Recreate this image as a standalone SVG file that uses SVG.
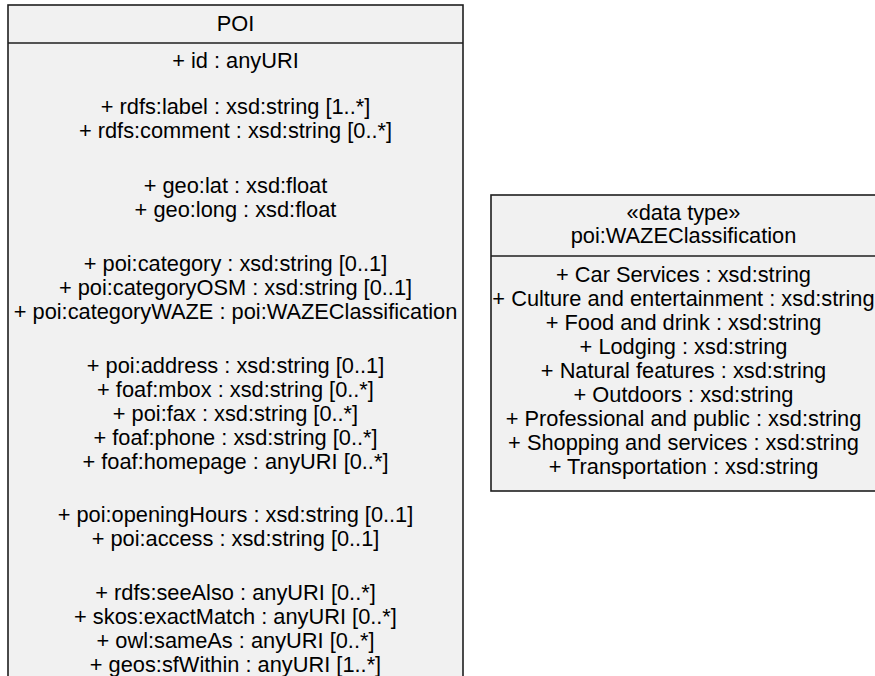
<svg xmlns="http://www.w3.org/2000/svg" width="875" height="676" viewBox="0 0 875 676">
  <style>
    .box { fill: #f1f1f1; stroke: #1e1e1e; stroke-width: 1.6; }
    .sep { stroke: #1e1e1e; stroke-width: 1.6; }
    text { font-family: "Liberation Sans", Arial, sans-serif; font-size: 21.8px; fill: #000; text-anchor: middle; }
  </style>
  <rect width="875" height="676" fill="#ffffff"/>

  <!-- POI class -->
  <g id="poi">
    <rect class="box" x="8" y="5" width="455" height="690"/>
    <line class="sep" x1="8" y1="43" x2="463" y2="43"/>
    <text x="235.5" y="31">POI</text>
    <text x="235.5" y="68">+ id : anyURI</text>
    <text x="235.5" y="114">+ rdfs:label : xsd:string [1..*]</text>
    <text x="235.5" y="138">+ rdfs:comment : xsd:string [0..*]</text>
    <text x="235.5" y="193">+ geo:lat : xsd:float</text>
    <text x="235.5" y="217">+ geo:long : xsd:float</text>
    <text x="235.5" y="271">+ poi:category : xsd:string [0..1]</text>
    <text x="235.5" y="295">+ poi:categoryOSM : xsd:string [0..1]</text>
    <text x="235.5" y="319">+ poi:categoryWAZE : poi:WAZEClassification</text>
    <text x="235.5" y="373">+ poi:address : xsd:string [0..1]</text>
    <text x="235.5" y="397">+ foaf:mbox : xsd:string [0..*]</text>
    <text x="235.5" y="421">+ poi:fax : xsd:string [0..*]</text>
    <text x="235.5" y="445">+ foaf:phone : xsd:string [0..*]</text>
    <text x="235.5" y="469">+ foaf:homepage : anyURI [0..*]</text>
    <text x="235.5" y="522">+ poi:openingHours : xsd:string [0..1]</text>
    <text x="235.5" y="546">+ poi:access : xsd:string [0..1]</text>
    <text x="235.5" y="600">+ rdfs:seeAlso : anyURI [0..*]</text>
    <text x="235.5" y="624">+ skos:exactMatch : anyURI [0..*]</text>
    <text x="235.5" y="648">+ owl:sameAs : anyURI [0..*]</text>
    <text x="235.5" y="672">+ geos:sfWithin : anyURI [1..*]</text>
  </g>

  <!-- WAZE classification data type -->
  <g id="waze-classification">
    <rect class="box" x="491" y="195" width="385" height="296"/>
    <line class="sep" x1="491" y1="256" x2="876" y2="256"/>
    <text x="683.5" y="220">«data type»</text>
    <text x="683.5" y="243">poi:WAZEClassification</text>
    <text x="683.5" y="282">+ Car Services : xsd:string</text>
    <text x="683.5" y="306">+ Culture and entertainment : xsd:string</text>
    <text x="683.5" y="330">+ Food and drink : xsd:string</text>
    <text x="683.5" y="354">+ Lodging : xsd:string</text>
    <text x="683.5" y="378">+ Natural features : xsd:string</text>
    <text x="683.5" y="402">+ Outdoors : xsd:string</text>
    <text x="683.5" y="426">+ Professional and public : xsd:string</text>
    <text x="683.5" y="450">+ Shopping and services : xsd:string</text>
    <text x="683.5" y="474">+ Transportation : xsd:string</text>
  </g>

  <!-- no connectors between the two boxes -->
  <g id="connectors"/>
</svg>
